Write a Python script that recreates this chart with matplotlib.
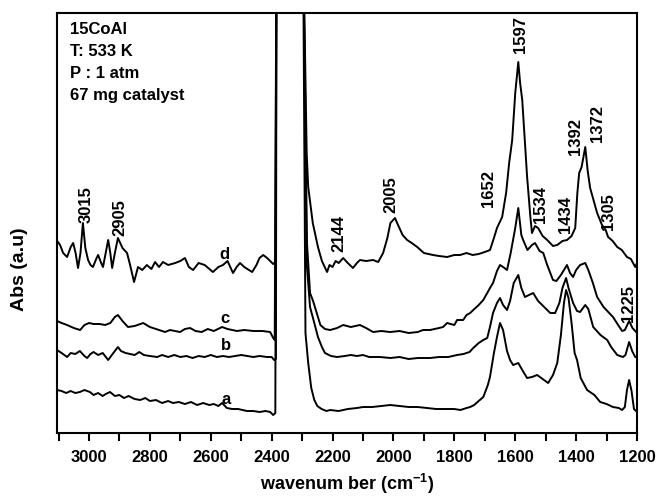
import numpy as np
import matplotlib
matplotlib.use("Agg")
import matplotlib.pyplot as plt
from matplotlib.ticker import MultipleLocator

plt.rcParams["font.family"] = ["Liberation Sans", "DejaVu Sans"]
plt.rcParams["font.weight"] = "bold"
plt.rcParams["mathtext.fontset"] = "custom"
plt.rcParams["mathtext.rm"] = "Liberation Sans:bold"
plt.rcParams["mathtext.bf"] = "Liberation Sans:bold"
plt.rcParams["mathtext.default"] = "bf"

# ── spectra (wavenumber cm-1, absorbance a.u.) ──────────────
# values above the plot top (5.0) are the saturated CO2 region
wn_a = [3105, 3090, 3075, 3060, 3045, 3030, 3015, 2997, 2985, 2970, 2955, 2945,
        2931, 2915, 2900, 2885, 2870, 2850, 2832, 2815, 2800, 2780, 2760, 2740,
        2724, 2705, 2685, 2665, 2645, 2625, 2605, 2590, 2575, 2563, 2547, 2530,
        2510, 2481, 2460, 2440, 2420, 2405, 2395, 2388, 2384,
        2297, 2289, 2280, 2270, 2260, 2250, 2236, 2220, 2208, 2180, 2150, 2120,
        2100, 2070, 2040, 2011, 1980, 1950, 1920, 1890, 1860, 1830, 1800, 1780,
        1760, 1748, 1735, 1720, 1705, 1690, 1683, 1670, 1660, 1650, 1640, 1627,
        1617, 1607, 1590, 1575, 1561, 1545, 1528, 1510, 1492, 1476, 1462, 1450,
        1440, 1433, 1425, 1415, 1405, 1397, 1385, 1364, 1340, 1321, 1300, 1279,
        1260, 1249, 1240, 1233, 1226, 1218, 1210, 1200]
abs_a = [0.43, 0.42, 0.40, 0.42, 0.40, 0.41, 0.43, 0.41, 0.38, 0.40, 0.37, 0.39,
         0.41, 0.37, 0.38, 0.35, 0.37, 0.34, 0.33, 0.35, 0.32, 0.33, 0.30, 0.32,
         0.30, 0.31, 0.29, 0.31, 0.28, 0.30, 0.28, 0.29, 0.27, 0.30, 0.25, 0.24,
         0.24, 0.22, 0.22, 0.21, 0.22, 0.21, 0.18, 0.20, 5.0,
         5.0, 1.00, 0.70, 0.45, 0.33, 0.27, 0.24, 0.22, 0.23, 0.22, 0.24, 0.25,
         0.26, 0.26, 0.27, 0.28, 0.27, 0.26, 0.26, 0.25, 0.24, 0.24, 0.24, 0.23,
         0.25, 0.26, 0.28, 0.32, 0.36, 0.48, 0.56, 0.80, 0.96, 1.10, 1.03, 0.82,
         0.73, 0.68, 0.70, 0.62, 0.55, 0.56, 0.58, 0.54, 0.50, 0.58, 0.70, 0.98,
         1.30, 1.43, 1.35, 1.10, 0.80, 0.73, 0.55, 0.43, 0.38, 0.31, 0.29, 0.26,
         0.25, 0.23, 0.26, 0.43, 0.53, 0.42, 0.24, 0.21]

wn_b = [3105, 3090, 3072, 3060, 3045, 3030, 3015, 3006, 2995, 2985, 2970, 2955,
        2937, 2920, 2905, 2895, 2880, 2865, 2850, 2835, 2820, 2800, 2776, 2760,
        2740, 2720, 2700, 2680, 2660, 2640, 2620, 2600, 2580, 2560, 2540, 2520,
        2500, 2480, 2460, 2440, 2415, 2400, 2392, 2386, 2384,
        2297, 2285, 2274, 2260, 2248, 2235, 2225, 2205, 2185, 2160, 2140, 2120,
        2100, 2080, 2044, 2010, 1980, 1950, 1920, 1880, 1850, 1820, 1791, 1770,
        1750, 1738, 1720, 1705, 1692, 1683, 1673, 1660, 1650, 1640, 1627, 1617,
        1605, 1590, 1580, 1568, 1555, 1541, 1525, 1505, 1485, 1469, 1455, 1445,
        1433, 1425, 1410, 1397, 1387, 1370, 1360, 1344, 1320, 1298, 1285, 1265,
        1246, 1238, 1226, 1216, 1206, 1200]
abs_b = [0.83, 0.80, 0.76, 0.80, 0.79, 0.82, 0.77, 0.75, 0.79, 0.81, 0.78, 0.80,
         0.73, 0.80, 0.86, 0.82, 0.80, 0.79, 0.78, 0.81, 0.78, 0.77, 0.76, 0.78,
         0.76, 0.78, 0.76, 0.77, 0.75, 0.77, 0.76, 0.78, 0.76, 0.77, 0.76, 0.77,
         0.78, 0.77, 0.76, 0.77, 0.76, 0.76, 0.73, 0.74, 5.0,
         5.0, 1.70, 1.26, 1.10, 0.96, 0.86, 0.80, 0.77, 0.76, 0.77, 0.78, 0.77,
         0.78, 0.76, 0.76, 0.75, 0.76, 0.74, 0.75, 0.75, 0.76, 0.76, 0.78, 0.79,
         0.81, 0.85, 0.90, 0.93, 0.95, 1.06, 1.20, 1.30, 1.35, 1.28, 1.23, 1.32,
         1.50, 1.58, 1.45, 1.36, 1.38, 1.40, 1.32, 1.26, 1.20, 1.20, 1.30, 1.45,
         1.55, 1.45, 1.30, 1.22, 1.21, 1.28, 1.24, 1.06, 0.98, 0.93, 0.86, 0.78,
         0.76, 0.78, 0.91, 0.82, 0.76, 0.76]

wn_c = [3105, 3090, 3072, 3050, 3029, 3015, 3000, 2985, 2965, 2947, 2930, 2915,
        2905, 2890, 2872, 2850, 2822, 2800, 2780, 2750, 2734, 2701, 2685, 2668,
        2650, 2630, 2610, 2590, 2563, 2545, 2514, 2490, 2460, 2430, 2405, 2395,
        2390, 2384,
        2297, 2284, 2274, 2264, 2250, 2240, 2225, 2208, 2185, 2165, 2140, 2110,
        2090, 2067, 2040, 2011, 1980, 1950, 1920, 1903, 1880, 1850, 1837, 1824,
        1800, 1791, 1771, 1760, 1748, 1738, 1720, 1705, 1692, 1683, 1673, 1660,
        1650, 1640, 1627, 1615, 1600, 1590, 1580, 1574, 1560, 1545, 1535, 1520,
        1508, 1495, 1476, 1465, 1450, 1430, 1420, 1410, 1400, 1387, 1370, 1360,
        1345, 1331, 1310, 1279, 1262, 1249, 1240, 1226, 1215, 1200]
abs_c = [1.12, 1.10, 1.08, 1.05, 1.03, 1.08, 1.10, 1.09, 1.09, 1.08, 1.10, 1.16,
         1.18, 1.12, 1.06, 1.07, 1.10, 1.06, 1.04, 1.01, 1.03, 1.01, 1.04, 1.05,
         1.02, 1.01, 1.04, 1.02, 1.06, 1.04, 1.02, 1.03, 1.02, 1.02, 1.01, 0.95,
         0.93, 5.0,
         5.0, 1.90, 1.40, 1.32, 1.18, 1.08, 1.04, 1.03, 1.05, 1.08, 1.06, 1.08,
         1.05, 1.01, 1.02, 1.01, 1.02, 1.00, 1.01, 1.03, 1.03, 1.05, 1.06, 1.10,
         1.08, 1.13, 1.13, 1.18, 1.20, 1.23, 1.28, 1.33, 1.40, 1.45, 1.50, 1.62,
         1.68, 1.66, 1.63, 1.80, 2.05, 2.25, 1.98, 1.93, 1.83, 1.88, 1.90, 1.82,
         1.80, 1.68, 1.53, 1.52, 1.58, 1.68, 1.60, 1.56, 1.63, 1.68, 1.70, 1.63,
         1.50, 1.36, 1.26, 1.16, 1.08, 1.02, 1.03, 1.12, 1.05, 1.00]

wn_d = [3102, 3095, 3085, 3072, 3060, 3052, 3044, 3036, 3028, 3020, 3012, 3003,
        2995, 2987, 2975, 2970, 2960, 2954, 2945, 2937, 2930, 2924, 2915, 2905,
        2890, 2875, 2865, 2852, 2839, 2825, 2810, 2795, 2783, 2770, 2757, 2740,
        2717, 2700, 2685, 2672, 2658, 2640, 2620, 2593, 2575, 2560, 2545, 2527,
        2515, 2504, 2490, 2480, 2464, 2450, 2440, 2428, 2415, 2405, 2395, 2388,
        2384,
        2297, 2285, 2280, 2265, 2248, 2235, 2218, 2210, 2200, 2190, 2180, 2165,
        2150, 2133, 2120, 2110, 2090, 2067, 2050, 2034, 2020, 2010, 1995, 1985,
        1970, 1955, 1940, 1922, 1900, 1870, 1850, 1824, 1800, 1781, 1760, 1740,
        1720, 1700, 1683, 1670, 1660, 1643, 1630, 1620, 1610, 1600, 1590, 1584,
        1577, 1568, 1561, 1550, 1545, 1535, 1525, 1510, 1495, 1476, 1462, 1445,
        1430, 1415, 1403, 1396, 1390, 1382, 1370, 1362, 1354, 1340, 1331, 1315,
        1303, 1295, 1280, 1265, 1250, 1233, 1220, 1206, 1200]
abs_d = [1.91, 1.88, 1.80, 1.76, 1.86, 1.90, 1.80, 1.65, 1.80, 2.10, 1.85, 1.73,
         1.68, 1.66, 1.75, 1.78, 1.70, 1.66, 1.80, 1.93, 1.80, 1.65, 1.80, 1.95,
         1.85, 1.80, 1.68, 1.51, 1.66, 1.63, 1.68, 1.64, 1.71, 1.66, 1.71, 1.68,
         1.70, 1.72, 1.75, 1.66, 1.63, 1.70, 1.68, 1.61, 1.66, 1.68, 1.72, 1.60,
         1.66, 1.70, 1.66, 1.64, 1.61, 1.68, 1.75, 1.78, 1.75, 1.72, 1.69, 1.71,
         5.0,
         5.0, 2.80, 2.46, 2.10, 1.86, 1.72, 1.61, 1.68, 1.66, 1.72, 1.70, 1.75,
         1.70, 1.65, 1.70, 1.73, 1.72, 1.73, 1.71, 1.80, 1.95, 2.10, 2.15, 2.08,
         1.98, 1.93, 1.90, 1.86, 1.80, 1.78, 1.77, 1.76, 1.78, 1.78, 1.80, 1.78,
         1.79, 1.81, 1.83, 1.95, 2.05, 2.16, 2.40, 2.70, 2.93, 3.40, 3.71, 3.50,
         3.33, 2.90, 2.56, 2.15, 2.00, 2.07, 2.05, 1.97, 1.93, 1.87, 1.88, 1.92,
         1.93, 1.97, 2.05, 2.40, 2.60, 2.66, 2.86, 2.62, 2.45, 2.30, 2.20, 2.08,
         2.03, 1.96, 1.92, 1.86, 1.83, 1.76, 1.74, 1.66, 1.70]

curve_names = ["a", "b", "c", "d"]
curve_label_wn = [2548, 2550, 2552, 2555]
curve_label_abs = [0.34, 0.88, 1.15, 1.79]

peak_labels = ["3015", "2905", "2144", "2005", "1652", "1597",
               "1534", "1434", "1392", "1372", "1305", "1225"]
peak_label_wn = [3010, 2898, 2179, 2008, 1689, 1584,
                 1518, 1436, 1403, 1331, 1295, 1229]
peak_label_abs = [2.10, 1.97, 1.81, 2.20, 2.26, 3.80,
                  2.10, 2.00, 2.78, 2.91, 2.03, 1.11]

info_lines = ["15CoAl", "T: 533 K", "P : 1 atm", "67 mg catalyst"]

# ── plot ────────────────────────────────────────────────────
fig = plt.figure(figsize=(6.57, 4.96), dpi=100)
ax = fig.add_axes([0.0868, 0.127, 0.8828, 0.8468])

for wn, ab in [(wn_a, abs_a), (wn_b, abs_b), (wn_c, abs_c), (wn_d, abs_d)]:
    ax.plot(wn, ab, color="black", linewidth=1.4)

for name, w, a in zip(curve_names, curve_label_wn, curve_label_abs):
    ax.text(w, a, name, fontsize=12, fontweight="bold", ha="center", va="center")

for lab, w, a in zip(peak_labels, peak_label_wn, peak_label_abs):
    ax.text(w, a, lab, fontsize=12, fontweight="bold", rotation=90,
            ha="center", va="bottom")

for i, line in enumerate(info_lines):
    ax.text(0.022, 0.95 - i * 0.052, line, transform=ax.transAxes,
            fontsize=12, fontweight="bold", ha="left", va="baseline")

ax.set_xlim(3105, 1200)
ax.set_ylim(0, 4.2)
ax.xaxis.set_major_locator(MultipleLocator(200))
ax.xaxis.set_minor_locator(MultipleLocator(100))
ax.set_yticks([])
ax.tick_params(axis="x", which="both", direction="out", length=6, width=1.5,
               labelsize=12, pad=6)
for lbl in ax.get_xticklabels():
    lbl.set_fontweight("bold")
for sp in ax.spines.values():
    sp.set_linewidth(1.5)

ax.set_xlabel("wavenum ber (cm$^{-1}$)", fontsize=13, fontweight="bold",
              labelpad=5)
ax.set_ylabel("Abs (a.u)", fontsize=14, fontweight="bold")
ax.yaxis.set_label_coords(-0.05, 0.39)

plt.savefig("out.png", dpi=100)
plt.close()
